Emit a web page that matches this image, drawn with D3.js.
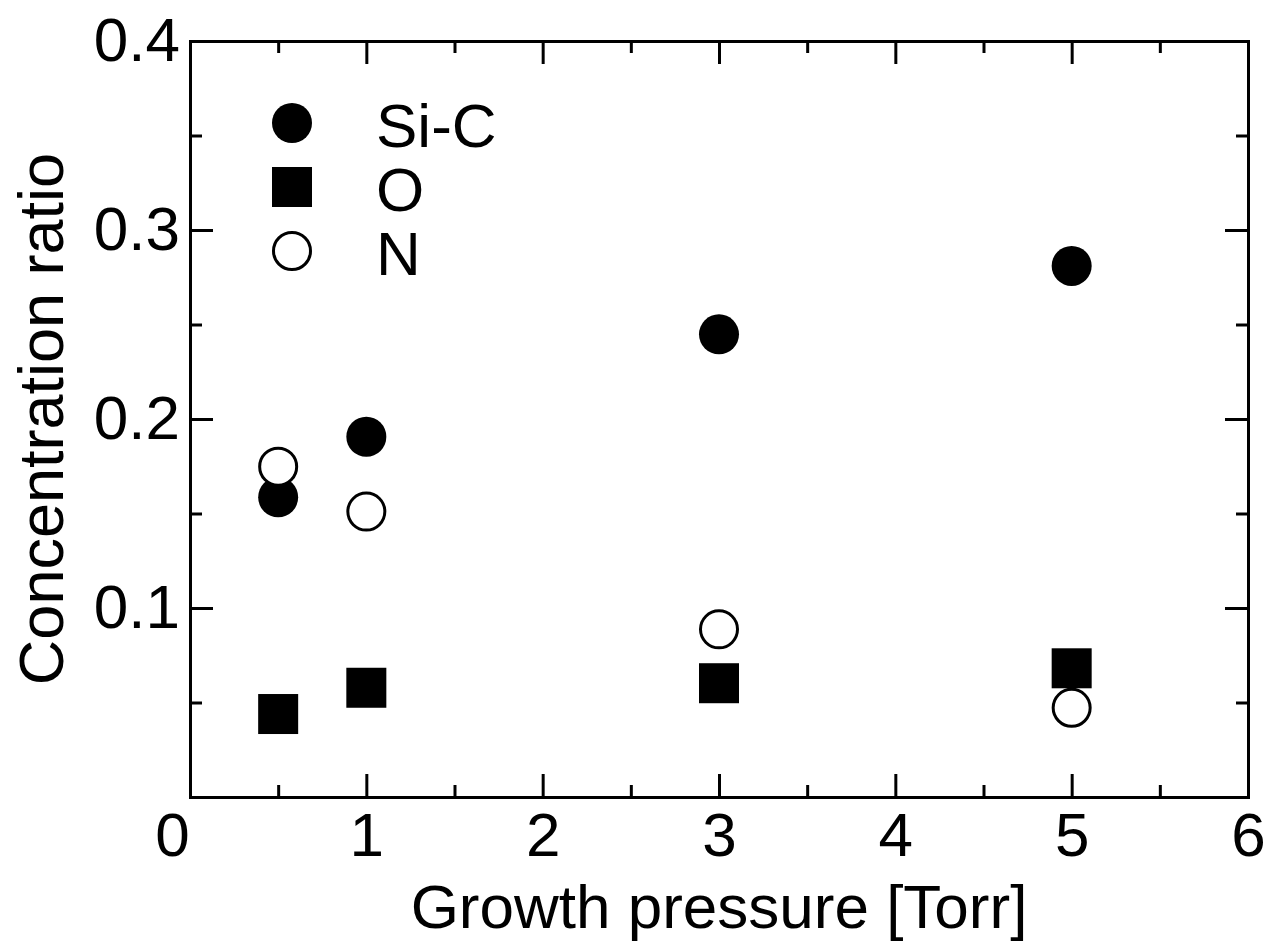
<!DOCTYPE html>
<meta charset="utf-8">
<html>
<head>
  <script src="https://cdn.jsdelivr.net/npm/d3@7"></script>
  <style>
    body { margin: 0; background: #fff; }
    text { font-family: 'Liberation Sans', Arial, sans-serif; fill: #000; }
    .axis path, .axis line { stroke: #000; stroke-width: 3; }
    .axis text { font-size: 62px; }
  </style>
</head>
<body>
  <script>
    // Data
    var pressure = [0.5, 1, 3, 5];
    var sic = [0.1586, 0.1906, 0.2448, 0.2810];
    var oxy = [0.0439, 0.0578, 0.0602, 0.0681];
    var nit = [0.1748, 0.1510, 0.0887, 0.0472];
    var xTicks = [0, 1, 2, 3, 4, 5, 6];
    var xMinor = [0.5, 1.5, 2.5, 3.5, 4.5, 5.5];
    var yTicks = [0.1, 0.2, 0.3, 0.4];
    var yMinor = [0.05, 0.15, 0.25, 0.35];
    var legendNames = ["Si-C", "O", "N"];

    var m = { top: 41, right: 34, bottom: 155, left: 190 },
      w = 1282 - m.left - m.right,
      h = 952 - m.top - m.bottom;

    var svg = d3.select("body").append("svg")
      .attr("width", 1282)
      .attr("height", 952);

    var g = svg.append("g")
      .attr("transform", `translate(${m.left}, ${m.top})`);

    var x = d3.scaleLinear().domain([0, 6]).range([0, w]);
    var y = d3.scaleLinear().domain([0, 0.4]).range([h, 0]);

    var major = 23, minor = 12;

    // bottom axis with labels
    var xb = g.append("g").attr("class", "axis")
      .attr("transform", `translate(0, ${h})`)
      .call(d3.axisBottom(x).tickValues(xTicks).tickSize(-major).tickPadding(15)
        .tickFormat(d3.format("d")));
    xb.selectAll(".tick text").filter(d => d === 0).attr("dx", "-18");
    g.append("g").attr("class", "axis")
      .attr("transform", `translate(0, ${h})`)
      .call(d3.axisBottom(x).tickValues(xMinor).tickSize(-minor).tickFormat(""))
      .select(".domain").remove();

    // top axis, ticks only
    g.append("g").attr("class", "axis")
      .call(d3.axisTop(x).tickValues(xTicks).tickSize(-major).tickFormat(""));
    g.append("g").attr("class", "axis")
      .call(d3.axisTop(x).tickValues(xMinor).tickSize(-minor).tickFormat(""))
      .select(".domain").remove();

    // left axis with labels
    g.append("g").attr("class", "axis")
      .call(d3.axisLeft(y).tickValues(yTicks).tickSize(-major).tickPadding(10)
        .tickFormat(d3.format(".1f")));
    g.append("g").attr("class", "axis")
      .call(d3.axisLeft(y).tickValues(yMinor).tickSize(-minor).tickFormat(""))
      .select(".domain").remove();

    // right axis, ticks only
    g.append("g").attr("class", "axis")
      .attr("transform", `translate(${w}, 0)`)
      .call(d3.axisRight(y).tickValues(yTicks).tickSize(-major).tickFormat(""));
    g.append("g").attr("class", "axis")
      .attr("transform", `translate(${w}, 0)`)
      .call(d3.axisRight(y).tickValues(yMinor).tickSize(-minor).tickFormat(""))
      .select(".domain").remove();

    g.selectAll(".domain").attr("stroke-linecap", "square");

    var r = 20, side = 40;

    // Si-C filled circles
    g.selectAll(".sic").data(pressure).enter().append("circle")
      .attr("class", "sic")
      .attr("cx", d => x(d))
      .attr("cy", (d, i) => y(sic[i]))
      .attr("r", r)
      .attr("fill", "#000");

    // O filled squares
    g.selectAll(".oxy").data(pressure).enter().append("rect")
      .attr("class", "oxy")
      .attr("x", d => x(d) - side / 2)
      .attr("y", (d, i) => y(oxy[i]) - side / 2)
      .attr("width", side)
      .attr("height", side)
      .attr("fill", "#000");

    // N open circles
    g.selectAll(".nit").data(pressure).enter().append("circle")
      .attr("class", "nit")
      .attr("cx", d => x(d))
      .attr("cy", (d, i) => y(nit[i]))
      .attr("r", r - 1.5)
      .attr("fill", "#fff")
      .attr("stroke", "#000")
      .attr("stroke-width", 3);

    // Legend
    var leg = svg.append("g").attr("transform", "translate(292, 123)");
    var step = 64;
    leg.append("circle").attr("cx", 0).attr("cy", 0).attr("r", r).attr("fill", "#000");
    leg.append("rect").attr("x", -side / 2).attr("y", step - side / 2)
      .attr("width", side).attr("height", side).attr("fill", "#000");
    leg.append("circle").attr("cx", 0).attr("cy", 2 * step).attr("r", r - 1.5)
      .attr("fill", "#fff").attr("stroke", "#000").attr("stroke-width", 3);
    leg.selectAll(".lt").data(legendNames).enter().append("text")
      .attr("class", "lt")
      .attr("x", 84)
      .attr("y", (d, i) => i * step + 24)
      .style("font-size", "62px")
      .text(d => d);

    // Axis titles
    svg.append("text")
      .attr("x", m.left + w / 2)
      .attr("y", 928)
      .attr("text-anchor", "middle")
      .style("font-size", "62px")
      .text("Growth pressure [Torr]");

    svg.append("text")
      .attr("transform", `translate(63, ${m.top + h / 2}) rotate(-90)`)
      .attr("text-anchor", "middle")
      .style("font-size", "63px")
      .text("Concentration ratio");
  </script>
</body>
</html>
